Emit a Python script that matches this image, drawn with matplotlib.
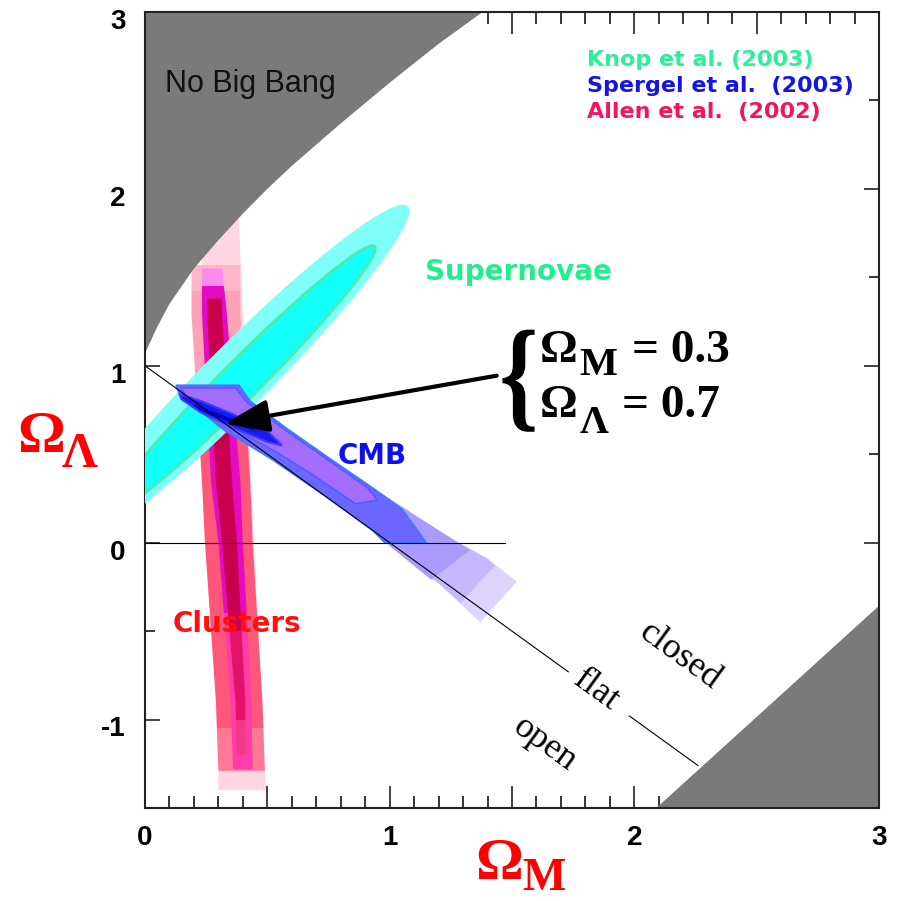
import numpy as np
import matplotlib
matplotlib.use("Agg")
import matplotlib.pyplot as plt
import matplotlib.transforms as mtransforms
from matplotlib.patches import Polygon, Rectangle, PathPatch
from matplotlib.textpath import TextPath
from matplotlib.font_manager import FontProperties

plt.rcParams['font.family'] = ['Liberation Sans', 'DejaVu Sans']

# ---- data (Omega_M, Omega_Lambda) ----
# "No Big Bang" boundary
nbb_om = [0.0, 0.01, 0.02, 0.05, 0.1, 0.2, 0.3, 0.4, 0.5, 0.6, 0.8, 1.0, 1.2, 1.4]
nbb_ol = [1.07, 1.10, 1.13, 1.22, 1.35, 1.55, 1.71, 1.86, 2.0, 2.13, 2.37, 2.6, 2.82, 3.02]
# recollapse boundary (bottom right)
rec_om = [2.09, 3.0]
rec_ol = [-1.5, -0.357]
# flat universe line, broken around the label
flat_om = [0.0, 1.73, 1.98, 2.26]
flat_ol = [1.0, -0.73, -0.98, -1.26]
zero_om = [0.0, 1.47]

# supernovae ellipses: centre and two conjugate half-axes
sn_outer_center = (0.380, 0.941)
sn_outer = [(0.694, 0.961), (0.0925, -0.128)]
sn_inner_center = (0.394, 0.921)
sn_inner = [(0.544, 0.753), (0.0548, -0.0759)]

# clusters: nested bands (y, left x, right x)
cl_env_y = [1.83, 1.60, -1.29, -1.40]
cl_env_xl = [0.233, 0.233, 0.30, 0.30]
cl_env_xr = [0.384, 0.39, 0.49, 0.495]
cl_out_y = [1.57, 1.29, 0.34, 0.0, -0.90, -1.29]
cl_out_xl = [0.19, 0.19, 0.233, 0.245, 0.29, 0.30]
cl_out_xr = [0.39, 0.39, 0.43, 0.44, 0.48, 0.49]
cl_mid_y = [1.55, 1.29, 0.34, 0.0, -0.90, -1.28]
cl_mid_xl = [0.233, 0.233, 0.27, 0.30, 0.35, 0.36]
cl_mid_xr = [0.315, 0.335, 0.39, 0.40, 0.435, 0.44]
cl_core_y = [1.38, 1.29, 0.34, 0.0, -0.90, -1.20]
cl_core_xl = [0.254, 0.254, 0.29, 0.315, 0.37, 0.375]
cl_core_xr = [0.315, 0.315, 0.356, 0.376, 0.41, 0.41]

# CMB contours
cmb_a_om = [0.127, 0.384, 0.43, 0.58, 0.74, 0.93, 1.12, 1.28, 1.40, 1.52, 1.37, 1.20, 1.01, 0.93, 0.74, 0.52, 0.32, 0.14]
cmb_a_ol = [0.89, 0.89, 0.80, 0.645, 0.49, 0.31, 0.14, 0.0, -0.09, -0.22, -0.45, -0.23, -0.03, 0.07, 0.26, 0.47, 0.64, 0.84]
cmb_b_om = [0.127, 0.384, 0.43, 0.58, 0.74, 0.93, 1.12, 1.28, 1.40, 1.43, 1.29, 1.20, 1.01, 0.93, 0.74, 0.52, 0.32, 0.14]
cmb_b_ol = [0.89, 0.89, 0.80, 0.645, 0.49, 0.31, 0.14, 0.0, -0.09, -0.13, -0.34, -0.23, -0.03, 0.07, 0.26, 0.47, 0.64, 0.84]
cmb_c_om = [0.127, 0.384, 0.43, 0.58, 0.74, 0.93, 1.12, 1.28, 1.33, 1.17, 1.01, 0.93, 0.74, 0.52, 0.32, 0.14]
cmb_c_ol = [0.89, 0.89, 0.80, 0.645, 0.49, 0.31, 0.14, 0.0, -0.04, -0.21, -0.03, 0.07, 0.26, 0.47, 0.64, 0.84]
cmb_d_om = [0.127, 0.384, 0.43, 0.58, 0.74, 0.93, 1.05, 1.15, 0.98, 0.93, 0.74, 0.52, 0.32, 0.14]
cmb_d_ol = [0.89, 0.89, 0.80, 0.645, 0.49, 0.31, 0.19, 0.0, 0.0, 0.07, 0.26, 0.47, 0.64, 0.84]
cmb_v_om = [0.15, 0.37, 0.415, 0.575, 0.735, 0.91, 0.95, 0.86, 0.69, 0.54, 0.41, 0.29, 0.17]
cmb_v_ol = [0.875, 0.875, 0.795, 0.635, 0.48, 0.31, 0.24, 0.22, 0.38, 0.51, 0.61, 0.71, 0.82]
cmb_core_om = [0.14, 0.23, 0.37, 0.50, 0.56, 0.50, 0.37, 0.23, 0.15]
cmb_core_ol = [0.84, 0.80, 0.72, 0.63, 0.55, 0.57, 0.645, 0.735, 0.81]
cmb_dark_om = [0.20, 0.30, 0.42, 0.46, 0.35, 0.22]
cmb_dark_ol = [0.78, 0.73, 0.66, 0.625, 0.68, 0.75]

# best fit pointed at by the arrow
best_om, best_ol = 0.3265, 0.673

legend_labels = ['Knop et al. (2003)', 'Spergel et al.  (2003)', 'Allen et al.  (2002)']
legend_colors = ['#2eee98', '#1414e8', '#f01462']

GREY = '#7a7a7a'
SN_GREEN = '#22ee8e'


def ellipse_pts(center, axes_vec, n=300):
    t = np.linspace(0, 2 * np.pi, n)
    (ux, uy), (vx, vy) = axes_vec
    x = center[0] + ux * np.cos(t) + vx * np.sin(t)
    y = center[1] + uy * np.cos(t) + vy * np.sin(t)
    return np.column_stack([x, y])


def band(ax, y, xl, xr, color, ylo=-5, yhi=5, z=2):
    pts = list(zip(xl, y)) + list(zip(xr, y))[::-1]
    p = Polygon(pts, closed=True, facecolor=color, edgecolor='none', zorder=z)
    ax.add_patch(p)
    clip = Rectangle((-1, ylo), 5, yhi - ylo, transform=ax.transData)
    p.set_clip_path(clip)


fig = plt.figure(figsize=(8.97, 9.01), dpi=100)
ax = fig.add_axes([145 / 897, 93 / 901, 734 / 897, 796 / 901])
ax.set_xlim(0, 3)
ax.set_ylim(-1.5, 3)

# clusters
band(ax, cl_env_y, cl_env_xl, cl_env_xr, '#ffd6e1')
band(ax, cl_out_y, cl_out_xl, cl_out_xr, '#ffb6c8', ylo=1.42)
band(ax, cl_out_y, cl_out_xl, cl_out_xr, '#ffa2b8', ylo=0.75, yhi=1.42)
band(ax, cl_out_y, cl_out_xl, cl_out_xr, '#ff5779', ylo=-1.05, yhi=0.75)
band(ax, cl_out_y, cl_out_xl, cl_out_xr, '#ff7896', yhi=-1.05)
band(ax, cl_mid_y, cl_mid_xl, cl_mid_xr, '#ff8aee', ylo=1.45)
band(ax, cl_mid_y, cl_mid_xl, cl_mid_xr, '#e40cc0', ylo=-0.4, yhi=1.45)
band(ax, cl_mid_y, cl_mid_xl, cl_mid_xr, '#ff3caa', yhi=-0.4)
band(ax, cl_core_y, cl_core_xl, cl_core_xr, '#c8004e', ylo=-0.5)
band(ax, cl_core_y, cl_core_xl, cl_core_xr, '#e21266', ylo=-1.0, yhi=-0.5)
band(ax, cl_core_y, cl_core_xl, cl_core_xr, '#f43a86', yhi=-1.0)

# forbidden regions
ax.fill(nbb_om + [1.4, -0.1, -0.1], nbb_ol + [3.2, 3.2, nbb_ol[0]], color=GREY, lw=0, zorder=2.5)
ax.fill(rec_om + [3.1, 3.1], rec_ol + [rec_ol[1], -1.6], color=GREY, lw=0, zorder=2.5)

# supernovae
ax.add_patch(Polygon(ellipse_pts(sn_outer_center, sn_outer), closed=True,
                     facecolor='#80fff8', edgecolor='none', zorder=3))
ax.add_patch(Polygon(ellipse_pts(sn_inner_center, sn_inner), closed=True,
                     facecolor='#12fffb', edgecolor='#44eeb4', lw=2.2, zorder=3.1))

# CMB
for om, ol, fc in [(cmb_a_om, cmb_a_ol, '#ddd5ff'), (cmb_b_om, cmb_b_ol, '#c6b8ff'),
                   (cmb_c_om, cmb_c_ol, '#ab9bff')]:
    ax.add_patch(Polygon(list(zip(om, ol)), closed=True, facecolor=fc, edgecolor='none', zorder=4))
ax.add_patch(Polygon(list(zip(cmb_d_om, cmb_d_ol)), closed=True, facecolor='#6c66ff',
                     edgecolor='#3b7bff', lw=1.2, zorder=4.1))
ax.add_patch(Polygon(list(zip(cmb_v_om, cmb_v_ol)), closed=True, facecolor='#a46cff',
                     edgecolor='#4a5cff', lw=1.0, zorder=4.2))
ax.add_patch(Polygon(list(zip(cmb_core_om, cmb_core_ol)), closed=True, facecolor='#1818f0',
                     edgecolor='#3a3aff', lw=1.5, zorder=4.3))
ax.add_patch(Polygon(list(zip(cmb_dark_om, cmb_dark_ol)), closed=True, facecolor='#0000cc',
                     edgecolor='none', zorder=4.4))

# lines
ax.plot(flat_om[:2], flat_ol[:2], color='black', lw=0.8, zorder=5)
ax.plot(flat_om[2:], flat_ol[2:], color='black', lw=0.8, zorder=5)
ax.plot(zero_om, [0, 0], color='black', lw=0.8, zorder=5)

# labels inside the plot
ax.text(0.082, 2.55, 'No Big Bang', fontsize=22, color='#111111', zorder=6)
for i, (lab, col) in enumerate(zip(legend_labels, legend_colors)):
    ax.text(1.808, 2.696 - 0.147 * i, lab, fontsize=16, fontweight='bold', color=col,
            family=['DejaVu Sans'], zorder=6)
ax.text(1.143, 1.487, 'Supernovae', fontsize=20, fontweight='bold', color=SN_GREEN,
        family=['DejaVu Sans'], zorder=6)
ax.text(0.788, 0.447, 'CMB', fontsize=20, fontweight='bold', color='#1010ee',
        family=['DejaVu Sans'], zorder=6)
ax.text(0.114, -0.503, 'Clusters', fontsize=20, fontweight='bold', color='#ff1010',
        family=['DejaVu Sans'], zorder=6)

serif = ['Liberation Serif', 'DejaVu Serif']
for s, x, y in [('closed', 2.188, -0.644), ('flat', 1.845, -0.837), ('open', 1.633, -1.142)]:
    ax.text(x, y, s, fontsize=26, family=serif, rotation=-36, rotation_mode='anchor',
            ha='center', va='center', zorder=6)

# annotation: arrow + brace + values
ax.annotate('', xy=(best_om, best_ol), xytext=(1.437, 0.944),
            arrowprops=dict(arrowstyle='-|>,head_length=1.35,head_width=0.5', lw=3,
                            color='black', mutation_scale=20, shrinkA=0, shrinkB=0),
            zorder=7)
fp = FontProperties(family='Liberation Serif', weight='bold')
tp = TextPath((0, 0), '{', size=100, prop=fp)
ext = tp.get_extents()
bx, by, bw, bh = 1.461, 0.627, 0.131, 0.577
btr = (mtransforms.Affine2D().translate(-ext.x0, -ext.y0)
       .scale(bw / ext.width, bh / ext.height).translate(bx, by) + ax.transData)
ax.add_patch(PathPatch(tp, transform=btr, facecolor='black', lw=0, clip_on=False, zorder=7))

ax.text(1.612, 1.023, 'Ω', fontsize=34, fontweight='bold', family=serif, zorder=7)
ax.text(1.776, 0.950, 'M', fontsize=29, fontweight='bold', family=serif, zorder=7)
ax.text(1.992, 1.023, '= 0.3', fontsize=34, fontweight='bold', family=serif, zorder=7)
ax.text(1.612, 0.712, 'Ω', fontsize=34, fontweight='bold', family=serif, zorder=7)
ax.text(1.776, 0.622, 'Λ', fontsize=29, fontweight='bold', family=serif, zorder=7)
ax.text(1.951, 0.712, '= 0.7', fontsize=34, fontweight='bold', family=serif, zorder=7)

# axis labels
fig.text(0.019, 0.498, 'Ω', fontsize=43, fontweight='bold', color='#ff0000', family=serif)
fig.text(0.069, 0.482, 'Λ', fontsize=36, fontweight='bold', color='#ff0000', family=serif)
fig.text(0.5295, 0.024, 'Ω', fontsize=43, fontweight='bold', color='#ff0000', family=serif)
fig.text(0.582, 0.012, 'M', fontsize=33, fontweight='bold', color='#ff0000', family=serif)

# ticks
ax.set_xticks(np.arange(0, 3.01, 0.5), labels=['0', '', '1', '', '2', '', '3'])
ax.set_xticks(np.arange(0, 3.01, 0.1), minor=True)
ax.set_yticks([-1, 0, 1, 2, 3], labels=['-1', '0', '1', '2', '3'])
ax.set_yticks([-1.5, -0.5, 0.5, 1.5, 2.5], minor=True)
ax.tick_params(axis='x', which='major', direction='in', length=16, width=1.2,
               top=True, bottom=True, labelsize=20, pad=12, colors='#222222')
ax.tick_params(axis='x', which='minor', direction='in', length=8.5, width=1.1,
               top=True, bottom=True)
ax.tick_params(axis='y', which='major', direction='in', length=11, width=1.2,
               left=True, right=True, labelsize=20, pad=14, colors='#222222')
ax.tick_params(axis='y', which='minor', direction='in', length=7, width=1.1,
               left=True, right=True)
for lbl in ax.get_xticklabels() + ax.get_yticklabels():
    lbl.set_fontweight('bold')
    lbl.set_color('black')
off = mtransforms.ScaledTranslation(0, -5 / 72, fig.dpi_scale_trans)
for lbl in ax.get_yticklabels():
    lbl.set_transform(lbl.get_transform() + off)

sec = ax.secondary_yaxis('right')
sec.set_yticks([-1.4, -1.3, -1.2, -1.1, -0.9, -0.8, -0.7, -0.6, -0.4], labels=[])
sec.tick_params(direction='in', length=5, width=1.0)
sec.spines['right'].set_visible(False)

for sp in ax.spines.values():
    sp.set_linewidth(1.5)
    sp.set_color('#222222')

fig.savefig('out.png', dpi=100)
